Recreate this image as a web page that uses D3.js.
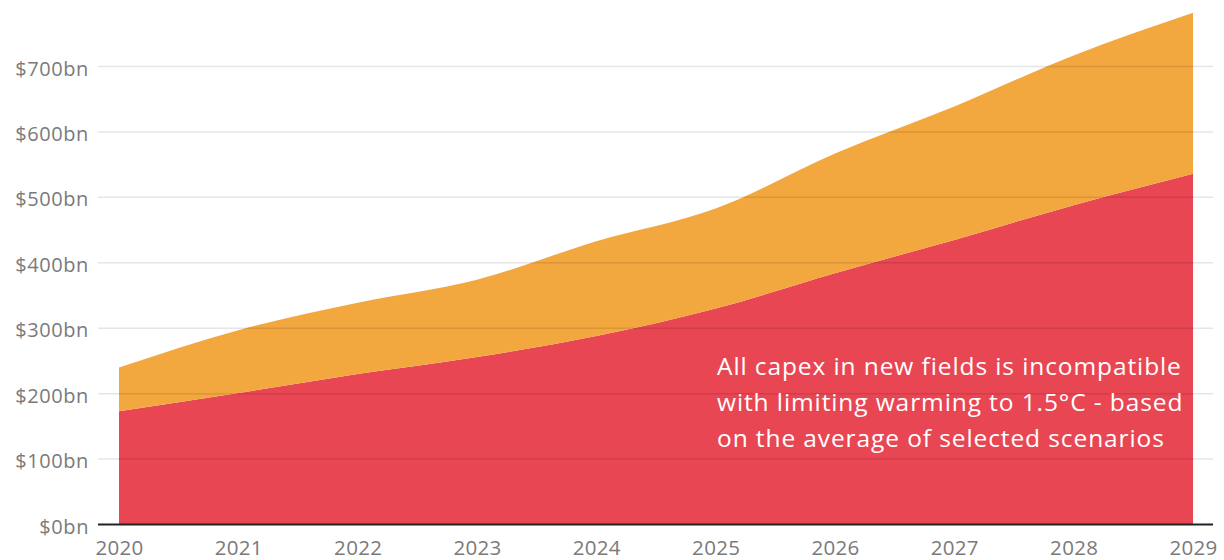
<!DOCTYPE html>
<html>
<head>
<meta charset="utf-8">
<script src="https://cdn.jsdelivr.net/npm/d3@7"></script>
<style>
  html, body { margin: 0; padding: 0; background: #fff; }
  svg { display: block; font-family: "Open Sans", sans-serif; }
</style>
</head>
<body>
<svg id="chart" width="1224" height="560"></svg>
<script>
const years = [2020, 2021, 2022, 2023, 2024, 2025, 2026, 2027, 2028, 2029];
// bottom series (red): capex incompatible with 1.5°C
const incompatible = [173, 201, 230, 256, 288, 330, 384, 435, 488, 536];
// top series (orange): remaining capex
const remaining = [67, 96, 109, 118, 145, 153, 183, 204, 229, 246];
const yTicks = [0, 100, 200, 300, 400, 500, 600, 700];
const seriesKeys = ["incompatible", "remaining"];
const seriesColors = ["#e84653", "#f3a73f"];
const annotationLines = [
  "All capex in new fields is incompatible",
  "with limiting warming to 1.5°C - based",
  "on the average of selected scenarios"
];

const svg = d3.select("#chart");
const x = d3.scaleLinear().domain([2020, 2029]).range([119, 1193]);
const y = d3.scaleLinear().domain([0, 700]).range([524.5, 66.5]);

const rows = years.map((yr, i) => ({ year: yr, incompatible: incompatible[i], remaining: remaining[i] }));
const stack = d3.stack().keys(seriesKeys)(rows);

const area = d3.area()
  .x(d => x(d.data.year))
  .y0(d => y(d[0]))
  .y1(d => y(d[1]))
  .curve(d3.curveMonotoneX);

svg.append("g").selectAll("path")
  .data(stack)
  .join("path")
  .attr("d", area)
  .attr("fill", (d, i) => seriesColors[i]);

// gridlines
const grid = svg.append("g");
grid.selectAll("line")
  .data(yTicks.filter(t => t > 0))
  .join("line")
  .attr("x1", 98).attr("x2", 1213)
  .attr("y1", d => y(d)).attr("y2", d => y(d))
  .attr("stroke", "#000")
  .attr("stroke-opacity", 0.1)
  .attr("stroke-width", 1.5);

// y axis labels
const yAxis = d3.axisLeft(y).tickValues(yTicks).tickSize(0).tickPadding(0)
  .tickFormat(d => "$" + d + "bn");
const gy = svg.append("g").attr("transform", "translate(89,1.5)").call(yAxis);
gy.select(".domain").remove();
gy.selectAll("text")
  .attr("fill", "#7a7a7a")
  .style("font-size", "20px")
  .style("letter-spacing", "0.6px")
  .style("font-family", "'Open Sans', sans-serif")
  .attr("dy", "0.35em");

// x axis labels
const xAxis = d3.axisBottom(x).tickValues(years).tickSize(0).tickPadding(0)
  .tickFormat(d3.format("d"));
const gx = svg.append("g").attr("transform", "translate(0,540)").call(xAxis);
gx.select(".domain").remove();
gx.selectAll("text")
  .attr("fill", "#7a7a7a")
  .style("font-size", "20.5px")
  .style("letter-spacing", "0.3px")
  .style("font-family", "'Open Sans', sans-serif")
  .attr("dy", "0.71em");

// zero baseline
svg.append("line")
  .attr("x1", 98).attr("x2", 1213)
  .attr("y1", y(0)).attr("y2", y(0))
  .attr("stroke", "#222")
  .attr("stroke-width", 2);

// annotation
const ann = svg.append("text")
  .attr("x", 717)
  .attr("y", 375)
  .attr("fill", "#fff")
  .style("font-size", "24.5px")
  .style("letter-spacing", "0.9px")
  .style("font-family", "'Open Sans', sans-serif");
ann.selectAll("tspan")
  .data(annotationLines)
  .join("tspan")
  .attr("x", 717)
  .attr("dy", (d, i) => i === 0 ? 0 : 36)
  .text(d => d);
</script>
</body>
</html>
